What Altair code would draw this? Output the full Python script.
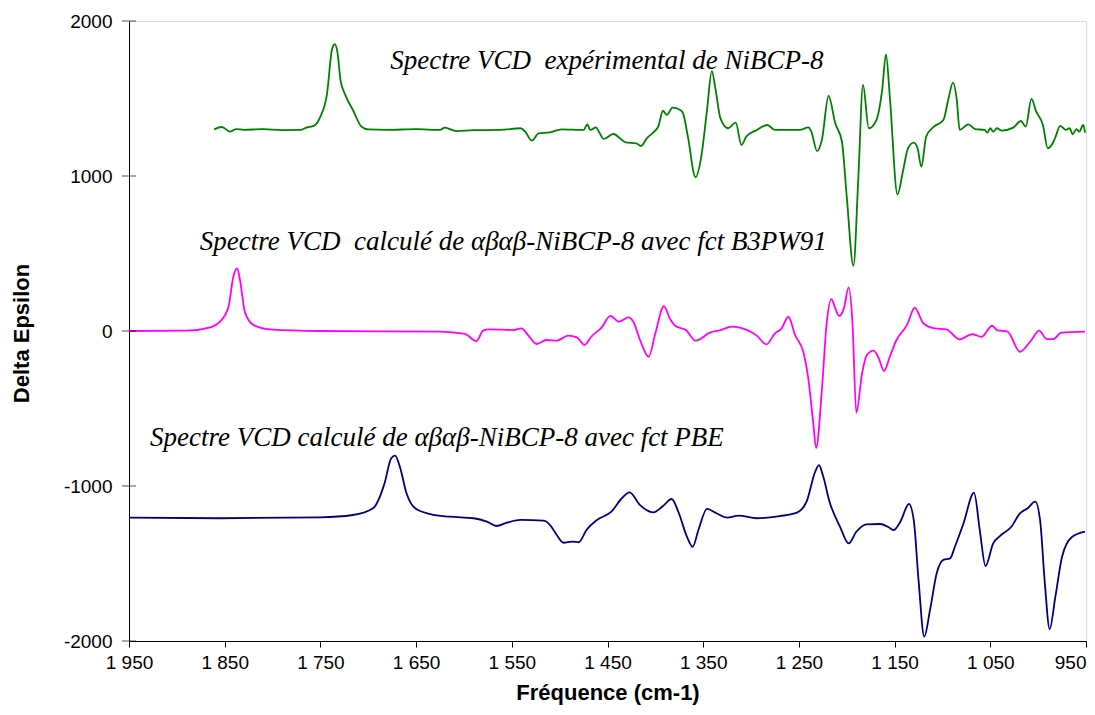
import altair as alt
import pandas as pd

# Experimental VCD spectrum (green)
exp_wn = [1861, 1853, 1844, 1838, 1830, 1810, 1790, 1771, 1764, 1757, 1750, 1743, 1738, 1735, 1732,
          1729, 1724, 1716, 1707, 1700, 1680, 1650, 1625, 1620, 1608, 1590, 1562, 1541, 1536, 1529,
          1522, 1510, 1498, 1475, 1471, 1468, 1462, 1459, 1454, 1444, 1431, 1420, 1415, 1409, 1402,
          1397, 1392, 1388, 1382, 1374, 1371, 1366, 1358, 1352, 1346, 1341, 1337, 1332, 1324, 1316,
          1310, 1305, 1294, 1283, 1275, 1249, 1240, 1237, 1231, 1226, 1219, 1212, 1205, 1200, 1193,
          1188, 1183, 1177, 1169, 1163, 1159, 1155, 1147, 1141, 1136, 1130, 1126, 1122, 1117, 1109,
          1099, 1094, 1089, 1085, 1082, 1073, 1066, 1056, 1053, 1050, 1047, 1043, 1038, 1026, 1018,
          1013, 1007, 1002, 995, 990, 984, 982, 977, 971, 967, 964, 960, 957, 953, 951]
exp_val = [1301, 1316, 1286, 1303, 1298, 1302, 1296, 1297, 1314, 1323, 1383, 1533, 1813, 1850, 1791,
           1619, 1523, 1426, 1318, 1301, 1298, 1302, 1297, 1312, 1290, 1296, 1297, 1308, 1286, 1228,
           1275, 1282, 1301, 1297, 1333, 1297, 1314, 1286, 1239, 1271, 1217, 1211, 1194, 1243, 1282,
           1318, 1421, 1394, 1441, 1426, 1404, 1254, 992, 1125, 1426, 1677, 1555, 1372, 1308, 1344,
           1200, 1254, 1297, 1329, 1297, 1297, 1314, 1286, 1161, 1232, 1516, 1340, 1221, 866, 421,
           974, 1587, 1308, 1361, 1555, 1785, 1511, 882, 1039, 1179, 1215, 1179, 1060, 1254, 1318,
           1361, 1490, 1602, 1490, 1297, 1333, 1303, 1297, 1280, 1308, 1286, 1308, 1293, 1312, 1355,
           1318, 1497, 1415, 1329, 1179, 1221, 1250, 1323, 1297, 1308, 1269, 1303, 1286, 1329, 1280]

# Calculated VCD spectrum, B3PW91 (magenta)
b3_wn = [1950, 1890, 1865, 1855, 1846, 1841, 1837, 1834, 1829, 1820, 1803, 1750, 1625, 1599, 1587,
         1580, 1573, 1548, 1540, 1533, 1524, 1514, 1503, 1491, 1482, 1474, 1467, 1456, 1447, 1438,
         1428, 1423, 1416, 1407, 1400, 1391, 1385, 1379, 1368, 1358, 1343, 1332, 1320, 1313, 1294,
         1284, 1275, 1268, 1261, 1254, 1245, 1240, 1235, 1232, 1226, 1221, 1216, 1212, 1208, 1203,
         1198, 1194, 1190, 1184, 1179, 1172, 1167, 1161, 1155, 1148, 1137, 1129, 1120, 1108, 1096,
         1082, 1069, 1059, 1048, 1043, 1032, 1019, 1007, 999, 991, 984, 976, 951]
b3_val = [0, 2, 24, 60, 157, 350, 404, 329, 125, 39, 11, 0, -4, -19, -65,
          2, 11, 6, 17, -26, -84, -58, -62, -30, -41, -90, -37, 24, 97, 60,
          88, 60, -58, -166, -15, 161, 82, 32, 6, -62, -11, 6, 28, 24, -30,
          -86, -15, 17, 92, -26, -144, -316, -595, -755, -381, 50, 206, 146, 97, 146,
          282, 50, -527, -273, -155, -127, -170, -258, -166, -58, 39, 150, 50, 17, 11,
          -54, -21, -37, 34, 6, -4, -134, -58, 2, -52, -52, -11, -4]

# Calculated VCD spectrum, PBE (navy)
pbe_wn = [1950, 1855, 1750, 1716, 1695, 1683, 1676, 1672, 1667, 1660, 1651, 1635, 1615, 1590, 1576,
          1566, 1555, 1541, 1517, 1510, 1503, 1496, 1487, 1480, 1472, 1461, 1446, 1435, 1427, 1416,
          1402, 1392, 1383, 1376, 1367, 1361, 1355, 1346, 1336, 1325, 1313, 1294, 1270, 1252, 1242,
          1233, 1229, 1225, 1218, 1207, 1198, 1190, 1179, 1165, 1157, 1151, 1144, 1135, 1130, 1125,
          1119, 1113, 1106, 1099, 1092, 1087, 1078, 1067, 1061, 1055, 1047, 1040, 1028, 1019, 1011,
          1003, 998, 993, 988, 982, 975, 965, 951]
pbe_val = [-1204, -1208, -1202, -1187, -1144, -983, -821, -804, -875, -1047, -1144, -1181, -1198, -1208, -1230,
           -1258, -1237, -1219, -1224, -1252, -1316, -1366, -1359, -1363, -1284, -1219, -1166, -1079, -1041, -1123,
           -1170, -1129, -1084, -1166, -1327, -1392, -1284, -1148, -1176, -1204, -1191, -1208, -1194, -1172, -1101,
           -908, -865, -929, -1101, -1263, -1370, -1295, -1247, -1245, -1263, -1284, -1230, -1116, -1219, -1606,
           -1972, -1800, -1563, -1477, -1467, -1392, -1241, -1043, -1284, -1516, -1370, -1323, -1263, -1176, -1144,
           -1101, -1219, -1628, -1923, -1714, -1456, -1331, -1295]

series_names = ["exp", "b3pw91", "pbe"]
series_colors = ["#008000", "#FF00FF", "#000080"]

x_ticks = [1950, 1850, 1750, 1650, 1550, 1450, 1350, 1250, 1150, 1050, 950]
y_ticks = [-2000, -1000, 0, 1000, 2000]

ann_text = ["Spectre VCD\u00a0 expérimental de NiBCP-8",
            "Spectre VCD\u00a0 calculé de αβαβ-NiBCP-8 avec fct B3PW91",
            "Spectre VCD calculé de αβαβ-NiBCP-8 avec fct PBE"]
ann_wn = [1677, 1876, 1928]
ann_val = [1690, 523, -742]

rows = []
for name, wns, vals in zip(series_names, [exp_wn, b3_wn, pbe_wn], [exp_val, b3_val, pbe_val]):
    for w, v in zip(wns, vals):
        rows.append({"series": name, "wn": w, "val": v})
df = pd.DataFrame(rows)
ann = pd.DataFrame({"text": ann_text, "wn": ann_wn, "val": ann_val})
ticks_df = pd.DataFrame({"val": y_ticks, "wn": [1950] * len(y_ticks)})

xscale = alt.Scale(domain=[950, 1950], reverse=True, nice=False, zero=False)
yscale = alt.Scale(domain=[-2000, 2000], nice=False, zero=False)

xaxis = alt.Axis(values=x_ticks, grid=False, tickSize=6, tickColor="black", domainColor="black",
                 labelExpr="replace(format(datum.value, ','), ',', ' ')",
                 labelAlign={"condition": {"test": "datum.value == 950", "value": "right"}, "value": "center"},
                 labelPadding=6, labelFontSize=19, labelColor="black",
                 title="Fréquence (cm-1)", titleFontSize=22, titleFontWeight="bold",
                 titleY=58, titleBaseline="alphabetic", titleColor="black")
yaxis = alt.Axis(values=y_ticks, grid=False, ticks=False, domainColor="black",
                 labelExpr="'' + datum.value", labelPadding=17, labelFontSize=19, labelColor="black",
                 title="Delta Epsilon", titleFontSize=22, titleFontWeight="bold",
                 titleX=-108, titleY=312, titleAngle=-90, titleBaseline="middle", titleAlign="center",
                 titleColor="black")

lines = alt.Chart(df).mark_line(strokeWidth=1.8, interpolate="monotone").encode(
    x=alt.X("wn:Q", scale=xscale, axis=xaxis),
    y=alt.Y("val:Q", scale=yscale, axis=yaxis),
    color=alt.Color("series:N", scale=alt.Scale(domain=series_names, range=series_colors), legend=None),
)

yticks_layer = alt.Chart(ticks_df).mark_tick(orient="horizontal", size=14, thickness=1, color="black").encode(
    x=alt.X("wn:Q", scale=xscale),
    y=alt.Y("val:Q", scale=yscale),
)

labels = alt.Chart(ann).mark_text(font="Liberation Serif", fontStyle="italic", fontSize=27,
                                  align="left", baseline="alphabetic", color="black").encode(
    x=alt.X("wn:Q", scale=xscale),
    y=alt.Y("val:Q", scale=yscale),
    text="text:N",
)

chart = alt.layer(lines, yticks_layer, labels).properties(
    width=957, height=620,
    autosize=alt.AutoSizeParams(type="none"),
    padding={"left": 121, "top": 13, "right": 1, "bottom": 66},
).configure_view(stroke="#808080", strokeWidth=1).configure_axis(
    labelFont="Liberation Sans", titleFont="Liberation Sans"
).configure(background="white")

chart.save("out.html", embed_options={"renderer": "svg", "actions": False})
